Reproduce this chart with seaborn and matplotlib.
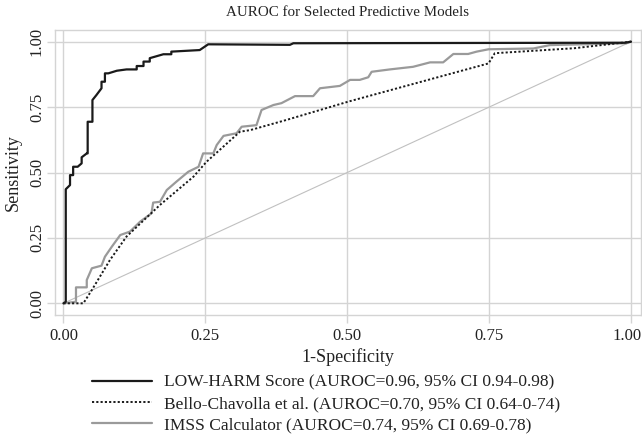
import matplotlib
matplotlib.use("Agg")
import matplotlib.pyplot as plt
import matplotlib.transforms as mtransforms
import seaborn as sns
import pandas as pd

# ROC curve points (1-specificity, sensitivity)
lowharm_fpr = [0.0, 0.004, 0.004, 0.0115, 0.0115, 0.017, 0.017, 0.025, 0.032, 0.032, 0.041,
               0.0426, 0.0426, 0.051, 0.051, 0.058, 0.067, 0.067, 0.073, 0.073, 0.079, 0.094,
               0.111, 0.129, 0.129, 0.141, 0.141, 0.152, 0.152, 0.176, 0.19, 0.19, 0.24, 0.255,
               0.399, 0.405, 0.989, 1.0]
lowharm_tpr = [0.0, 0.006, 0.436, 0.452, 0.49, 0.49, 0.522, 0.522, 0.535, 0.558, 0.573,
               0.573, 0.694, 0.694, 0.777, 0.796, 0.822, 0.847, 0.847, 0.879, 0.879, 0.889,
               0.894, 0.894, 0.907, 0.907, 0.924, 0.924, 0.937, 0.952, 0.952, 0.962, 0.968, 0.99,
               0.988, 0.994, 0.996, 1.0]

bello_fpr = [0.0, 0.035, 0.05, 0.082, 0.111, 0.17, 0.229, 0.252, 0.311, 0.329, 0.393, 0.502,
             0.749, 0.76, 0.9, 1.0]
bello_tpr = [0.0, 0.0, 0.051, 0.166, 0.255, 0.376, 0.484, 0.541, 0.656, 0.662, 0.701, 0.771,
             0.917, 0.956, 0.975, 1.0]

imss_fpr = [0.0, 0.022, 0.022, 0.041, 0.041, 0.05, 0.067, 0.073, 0.085, 0.1, 0.117, 0.135,
            0.155, 0.158, 0.17, 0.182, 0.199, 0.22, 0.238, 0.246, 0.264, 0.27, 0.282, 0.305,
            0.314, 0.34, 0.349, 0.37, 0.384, 0.408, 0.44, 0.452, 0.487, 0.505, 0.522, 0.537,
            0.543, 0.575, 0.616, 0.646, 0.669, 0.687, 0.713, 0.728, 0.749, 0.828, 0.857,
            0.992, 1.0]
imss_tpr = [0.0, 0.006, 0.061, 0.061, 0.089, 0.134, 0.144, 0.178, 0.216, 0.261, 0.274, 0.312,
            0.344, 0.385, 0.388, 0.433, 0.465, 0.503, 0.522, 0.573, 0.573, 0.605, 0.64, 0.65,
            0.675, 0.681, 0.739, 0.758, 0.765, 0.792, 0.792, 0.822, 0.831, 0.854, 0.854, 0.864,
            0.885, 0.894, 0.904, 0.921, 0.921, 0.953, 0.953, 0.962, 0.971, 0.974, 0.987,
            0.994, 1.0]

ref_line = [0.0, 1.0]
ticks = [0.0, 0.25, 0.5, 0.75, 1.0]
tick_labels = ["0.00", "0.25", "0.50", "0.75", "1.00"]

labels = ["LOW-HARM Score (AUROC=0.96, 95% CI 0.94-0.98)",
          "Bello-Chavolla et al. (AUROC=0.70, 95% CI 0.64-0-74)",
          "IMSS Calculator (AUROC=0.74, 95% CI 0.69-0.78)"]

sns.set_theme(style="white")
plt.rcParams["font.family"] = ["Liberation Serif", "DejaVu Serif"]

fig = plt.figure(figsize=(6.42, 4.36), dpi=100)
ax = fig.add_axes([0.0852, 0.2775, 0.9132, 0.6537])

grid_col = "#d4d4d4"
txt_col = "#222222"

df_low = pd.DataFrame({"x": lowharm_fpr, "y": lowharm_tpr})
df_bel = pd.DataFrame({"x": bello_fpr, "y": bello_tpr})
df_ims = pd.DataFrame({"x": imss_fpr, "y": imss_tpr})

sns.lineplot(data=df_low, x="x", y="y", sort=False, estimator=None, ax=ax,
             color="#1a1a1a", linewidth=1.6, label=labels[0], zorder=4)
sns.lineplot(data=df_bel, x="x", y="y", sort=False, estimator=None, ax=ax,
             color="#1a1a1a", linewidth=1.4, linestyle=(0, (1.1, 1.1)), label=labels[1], zorder=3)
sns.lineplot(data=df_ims, x="x", y="y", sort=False, estimator=None, ax=ax,
             color="#9a9a9a", linewidth=1.6, label=labels[2], zorder=2)
ax.plot(ref_line, ref_line, color="#c0c0c0", linewidth=0.8, zorder=1)

ax.set_xlim(-0.0155, 1.0176)
ax.set_ylim(-0.0447, 1.0447)
ax.set_xticks(ticks)
ax.set_xticklabels(tick_labels)
ax.set_yticks(ticks)
ax.set_yticklabels(tick_labels, rotation=90, va="center")
ax.grid(True, color=grid_col, linewidth=1.0)
ax.set_axisbelow(True)
for s in ax.spines.values():
    s.set_color(grid_col)
    s.set_linewidth(1.0)
ax.tick_params(axis="both", direction="out", length=6, width=1.0, color=grid_col,
               labelsize=12, labelcolor=txt_col, bottom=True, left=True)
ax.tick_params(axis="x", pad=3)
ax.tick_params(axis="y", pad=1)

# keep the last x label inside the figure
last = ax.get_xticklabels()[-1]
last.set_transform(last.get_transform() + mtransforms.ScaledTranslation(-4 / 100, 0, fig.dpi_scale_trans))

ax.set_title("AUROC for Selected Predictive Models", fontsize=10.8, color=txt_col, pad=10)
ax.set_xlabel("1-Specificity", fontsize=13, color=txt_col, labelpad=3)
ax.set_ylabel("Sensitivity", fontsize=13, color=txt_col, labelpad=5)

handles, lbls = ax.get_legend_handles_labels()
ax.legend_.remove()
fig.legend(handles, lbls, loc="upper center", bbox_to_anchor=(0.508, 0.157),
           frameon=False, fontsize=12.5, handlelength=3.45, handletextpad=0.7,
           labelspacing=0.3, labelcolor=txt_col, borderaxespad=0)

fig.savefig("out.png", dpi=100)
